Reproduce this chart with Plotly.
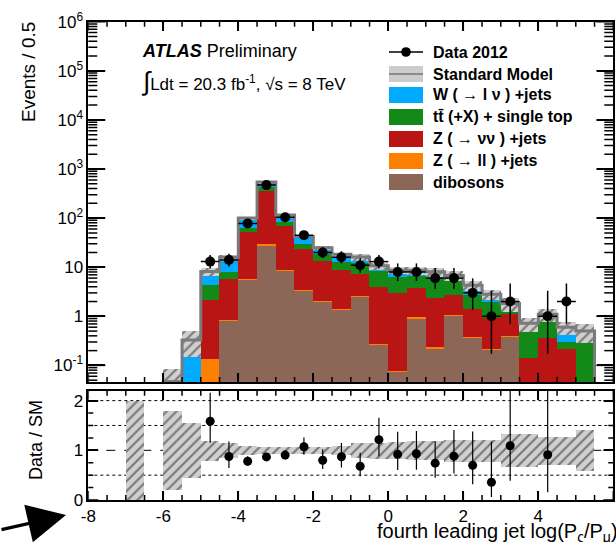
import numpy as np
import plotly.graph_objects as go
from math import exp, log, lgamma, log10

# ---------------- data ----------------
bin_edges = [-7 + 0.5 * i for i in range(26)]
dibosons = [0, 0, 0, 0, 0, 0.8, 5.5, 28, 8.3, 3.3, 2.0, 1.34, 2.5, 0.26, 0.074, 0.91, 0.22, 1.03, 0.36, 0.21, 0.385, 0, 0, 0, 0]
z_ll = [0, 0, 0, 0, 0.135, 0.05, 0.3, 1.5, 0.5, 0.2, 0.12, 0.08, 0.15, 0.02, 0.005, 0.05, 0.015, 0.06, 0.02, 0.012, 0.02, 0, 0, 0, 0]
z_nunu = [0, 0, 0, 0, 2.015, 5.09, 47.1, 331.5, 60.2, 20.8, 11.48, 7.64, 4.85, 3.72, 2.95, 2.94, 2.2, 1.61, 1.03, 0.733, 0.705, 0.146, 0.367, 0.215, 0]
ttbar = [0, 0, 0, 0, 2.19, 2.16, 12.1, 75, 15.5, 6.4, 5.6, 3.84, 4.9, 4.5, 3.37, 2.7, 3.5, 3.5, 1.31, 1.025, 0.35, 0.544, 0.68, 0.085, 0.5]
w_lnu = [0.02, 0, 0.047, 0.33, 3.86, 7.9, 35, 106, 30.5, 11.3, 5.8, 5.5, 3.8, 2.2, 2.3, 2.0, 2.16, 0.6, 1.58, 0.82, 0.37, 0.03, 0.05, 0.3, 0]
sm_rel_unc = [1.0, 0, 0.8, 0.55, 0.2, 0.145, 0.085, 0.07, 0.07, 0.07, 0.075, 0.09, 0.15, 0.16, 0.17, 0.19, 0.19, 0.22, 0.22, 0.22, 0.33, 0.33, 0.28, 0.28, 0.41]
data_2012 = [0, 0, 0, 0, 13, 14, 78, 470, 104, 45, 20, 16, 11, 13, 8, 8, 6, 6, 3, 1, 2, 0, 1, 2, 0]

y_tickvals = [0.1, 1, 10, 100, 1e3, 1e4, 1e5, 1e6]
y_ticktext = ["10<sup>-1</sup>", "1", "10", "10<sup>2</sup>", "10<sup>3</sup>", "10<sup>4</sup>", "10<sup>5</sup>", "10<sup>6</sup>"]
x_tickvals = [-8, -6, -4, -2, 0, 2, 4, 6]
x_ticktext = ["-8", "-6", "-4", "-2", "0", "2", "4", "6"]
r_tickvals = [0, 1, 2]
r_ticktext = ["0", "1", "2"]

# ---------------- derived ----------------
edges = np.array(bin_edges)
centers = 0.5 * (edges[:-1] + edges[1:])
db = np.array(dibosons); zl = np.array(z_ll); zn = np.array(z_nunu)
tt = np.array(ttbar); wl = np.array(w_lnu)
c_db = db
c_zl = c_db + zl
c_zn = c_zl + zn
c_tt = c_zn + tt
c_w = c_tt + wl
sm = c_w
unc = np.array(sm_rel_unc)
data = np.array(data_2012, dtype=float)


def nz(a):
    return [float(v) if v > 0 else None for v in a]


def pcdf(k, mu):
    if k < 0:
        return 0.0
    return sum(exp(-mu + i * log(mu) - lgamma(i + 1)) for i in range(k + 1))


def poisson_interval(n, alpha=0.3173):
    if n == 0:
        lo = 0.0
    else:
        a, b = 1e-9, float(n)
        for _ in range(100):
            m = 0.5 * (a + b)
            if 1 - pcdf(n - 1, m) < alpha / 2:
                a = m
            else:
                b = m
        lo = 0.5 * (a + b)
    a, b = float(n) + 1e-9, n + 20 + 6 * np.sqrt(n + 1)
    for _ in range(100):
        m = 0.5 * (a + b)
        if pcdf(n, m) > alpha / 2:
            a = m
        else:
            b = m
    hi = 0.5 * (a + b)
    return lo, hi


mask = data > 0
dx = centers[mask]
dy = data[mask]
lohi = [poisson_interval(int(n)) for n in dy]
err_up = np.array([h - n for (l, h), n in zip(lohi, dy)])
err_dn = np.array([n - l for (l, h), n in zip(lohi, dy)])

W, H = 616, 542
def PX(p):
    return p / W
def PY(p):
    return 1 - p / H

X0, X1 = 88.3, 613.3
MAIN_T, MAIN_B = 21.7, 382.0
RAT_T, RAT_B = 390.7, 500.0
YLOG_RANGE = [-1.338, 6]

FONT = "Liberation Sans, Arial, Helvetica, sans-serif"

fig = go.Figure()

stack = [
    (c_w, "#00AAFF", "W"),
    (c_tt, "#138A17", "tt"),
    (c_zn, "#BA1515", "Znn"),
    (c_zl, "#FF7F00", "Zll"),
    (c_db, "#8C6656", "db"),
]
for vals, col, nm in stack:
    fig.add_trace(go.Bar(x=centers, y=nz(vals), width=0.5, marker=dict(color=col, line=dict(width=0)),
                         name=nm, showlegend=False, xaxis="x", yaxis="y"))

band_base = np.maximum(sm * (1 - unc), 1e-4)
band_h = sm * (1 + unc) - band_base
hatch = dict(color="#d0d0d0", line=dict(width=0),
             pattern=dict(shape="/", fgcolor="#787878", bgcolor="#d0d0d0", size=7, solidity=0.3))
fig.add_trace(go.Bar(x=centers[sm > 0], y=band_h[sm > 0], base=band_base[sm > 0], width=0.5,
                     marker=hatch, showlegend=False, xaxis="x", yaxis="y"))

smf = np.where(sm > 0, sm, 1e-4)
xs = [edges[0]] + list(edges[:-1]) + [edges[-1], edges[-1]]
ys = [1e-4] + list(smf) + [smf[-1], 1e-4]
fig.add_trace(go.Scatter(x=xs, y=ys, mode="lines", line=dict(color="#7a7a7a", width=3, shape="hv"),
                         showlegend=False, xaxis="x", yaxis="y", hoverinfo="skip"))

fig.add_trace(go.Scatter(x=dx, y=dy, mode="markers", marker=dict(color="black", size=10),
                         error_y=dict(type="data", symmetric=False, array=err_up, arrayminus=err_dn,
                                      color="black", thickness=1.5, width=0),
                         error_x=dict(type="constant", value=0.25, color="black", thickness=1.5, width=0),
                         showlegend=False, xaxis="x", yaxis="y"))

rb = sm > 0
fig.add_trace(go.Bar(x=centers[rb], y=2 * unc[rb], base=1 - unc[rb], width=0.5, marker=hatch,
                     showlegend=False, xaxis="x2", yaxis="y2"))

ratio = dy / sm[mask]
r_up = err_up / sm[mask]
r_dn = err_dn / sm[mask]
keep = ratio <= 2.2
fig.add_trace(go.Scatter(x=dx[keep], y=ratio[keep], mode="markers", marker=dict(color="black", size=9),
                         error_y=dict(type="data", symmetric=False, array=r_up[keep], arrayminus=r_dn[keep],
                                      color="black", thickness=1.2, width=0),
                         showlegend=False, xaxis="x2", yaxis="y2"))

axis_common = dict(showgrid=False, zeroline=False, showline=True, linecolor="black", linewidth=1.6,
                   mirror="ticks", ticks="inside", tickcolor="black", tickwidth=1.5, automargin=False,
                   tickfont=dict(family=FONT, size=17, color="black"))

minor_x = [float(v) for v in np.arange(-8, 6.01, 0.5) if abs(v / 2 - round(v / 2)) > 1e-6]
minor_y = [k * 10.0 ** n for n in range(-2, 6) for k in range(2, 10) if YLOG_RANGE[0] <= log10(k * 10.0 ** n) <= YLOG_RANGE[1]]
minor_r = [float(v) for v in np.arange(0.25, 2.2, 0.25) if abs(v - round(v)) > 1e-6]

fig.update_layout(
    template="none",
    width=W, height=H, margin=dict(l=0, r=0, t=0, b=0, pad=0, autoexpand=False),
    paper_bgcolor="white", plot_bgcolor="white",
    barmode="overlay", bargap=0, showlegend=False,
    xaxis=dict(domain=[PX(X0), PX(X1)], range=[-8, 6], anchor="y", showticklabels=False,
               tickmode="array", tickvals=x_tickvals, ticklen=9, **axis_common),
    yaxis=dict(domain=[PY(MAIN_B), PY(MAIN_T)], type="log", range=YLOG_RANGE, anchor="x",
               tickmode="array", tickvals=y_tickvals, ticktext=y_ticktext, ticklen=17, **axis_common),
    xaxis2=dict(domain=[PX(X0), PX(X1)], range=[-8, 6], anchor="y2",
                tickmode="array", tickvals=x_tickvals, ticktext=x_ticktext, ticklen=9, **axis_common),
    yaxis2=dict(domain=[PY(RAT_B), PY(RAT_T)], range=[0, 2.2], anchor="x2",
                tickmode="array", tickvals=r_tickvals, ticktext=r_ticktext, ticklen=10, **axis_common),
)

shapes = []
def tick(**kw):
    shapes.append(dict(type="line", line=dict(color="black", width=1.5), layer="above", **kw))

for vals, ln in [(y_tickvals, 17), (minor_y, 9)]:
    for v in vals:
        tick(xref="paper", yref="y", x0=PX(X0), x1=PX(X0 + ln), y0=v, y1=v)
        tick(xref="paper", yref="y", x0=PX(X1 - ln), x1=PX(X1), y0=v, y1=v)
for vals, ln in [(x_tickvals, 9), (minor_x, 5)]:
    for v in vals:
        tick(xref="x", yref="paper", x0=v, x1=v, y0=PY(MAIN_B), y1=PY(MAIN_B - ln))
        tick(xref="x", yref="paper", x0=v, x1=v, y0=PY(MAIN_T + ln), y1=PY(MAIN_T))
        tick(xref="x2", yref="paper", x0=v, x1=v, y0=PY(RAT_B), y1=PY(RAT_B - ln))
        tick(xref="x2", yref="paper", x0=v, x1=v, y0=PY(RAT_T + ln), y1=PY(RAT_T))
for vals, ln in [(r_tickvals, 10), (minor_r, 5)]:
    for v in vals:
        tick(xref="paper", yref="y2", x0=PX(X0), x1=PX(X0 + ln), y0=v, y1=v)
        tick(xref="paper", yref="y2", x0=PX(X1 - ln), x1=PX(X1), y0=v, y1=v)

for yv, dash in [(0.5, "dot"), (1.5, "dot"), (2.0, "dot"), (1.0, "dash")]:
    shapes.append(dict(type="line", xref="x2", yref="y2", x0=-8, x1=6, y0=yv, y1=yv,
                       line=dict(color="black", width=1, dash=dash), layer="below"))

ann = []
def text(px, py, s, size, anchor="left", **kw):
    ann.append(dict(x=PX(px), y=PY(py), xref="paper", yref="paper", text=s, showarrow=False,
                    xanchor=anchor, yanchor="middle", font=dict(family=FONT, size=size, color="black"), **kw))

text(140, 51, "<b><i>ATLAS</i></b> Preliminary", 18)
text(139, 81, "<span style='font-size:26px'>∫</span>Ldt = 20.3 fb<sup>-1</sup>, √s = 8 TeV", 17)

ann.append(dict(x=PX(29), y=PY(20), xref="paper", yref="paper", text="Events / 0.5", showarrow=False,
                textangle=-90, xanchor="center", yanchor="top", font=dict(family=FONT, size=19, color="black")))
ann.append(dict(x=PX(36), y=PY(398), xref="paper", yref="paper", text="Data / SM", showarrow=False,
                textangle=-90, xanchor="center", yanchor="top", font=dict(family=FONT, size=18, color="black")))
ann.append(dict(x=PX(375), y=PY(532), xref="paper", yref="paper",
                text="fourth leading jet log(P<sub>ς</sub>/P<sub>μ</sub>)", showarrow=False,
                xanchor="left", yanchor="middle", font=dict(family=FONT, size=20, color="black")))

LX0, LX1 = 389, 423
TX = 431
rows = [
    (52, "<b>Data 2012</b>", None),
    (74, "<b>Standard Model</b>", "sm"),
    (95, "<b>W ( → l ν ) +jets</b>", "#00AAFF"),
    (117, "<b>tt\u0304 (+X) + single top</b>", "#138A17"),
    (139, "<b>Z ( → νν ) +jets</b>", "#BA1515"),
    (161, "<b>Z ( → ll ) +jets</b>", "#FF7F00"),
    (182, "<b>dibosons</b>", "#8C6656"),
]
for py, s, col in rows:
    text(TX, py, s, 16)
    if col is None:
        shapes.append(dict(type="line", xref="paper", yref="paper", x0=PX(LX0), x1=PX(LX1), y0=PY(py), y1=PY(py),
                           line=dict(color="black", width=1.5)))
        shapes.append(dict(type="circle", xref="paper", yref="paper", x0=PX(406 - 4.8), x1=PX(406 + 4.8),
                           y0=PY(py + 4.8), y1=PY(py - 4.8), fillcolor="black", line=dict(color="black", width=0)))
    elif col == "sm":
        shapes.append(dict(type="rect", xref="paper", yref="paper", x0=PX(LX0), x1=PX(LX1), y0=PY(py + 8), y1=PY(py - 8),
                           fillcolor="#cccccc", line=dict(width=0)))
        shapes.append(dict(type="line", xref="paper", yref="paper", x0=PX(LX0), x1=PX(LX1), y0=PY(py), y1=PY(py),
                           line=dict(color="#8a8a8a", width=2)))
    else:
        shapes.append(dict(type="rect", xref="paper", yref="paper", x0=PX(LX0), x1=PX(LX1), y0=PY(py + 8), y1=PY(py - 8),
                           fillcolor=col, line=dict(width=0)))

ann.append(dict(x=PX(66), y=PY(515), xref="paper", yref="paper", text="", showarrow=True,
                ax=-78, ay=15, arrowhead=2, arrowsize=2.4, arrowwidth=3.2, arrowcolor="black"))

fig.update_layout(annotations=ann, shapes=shapes)
fig.write_html("out.html")
